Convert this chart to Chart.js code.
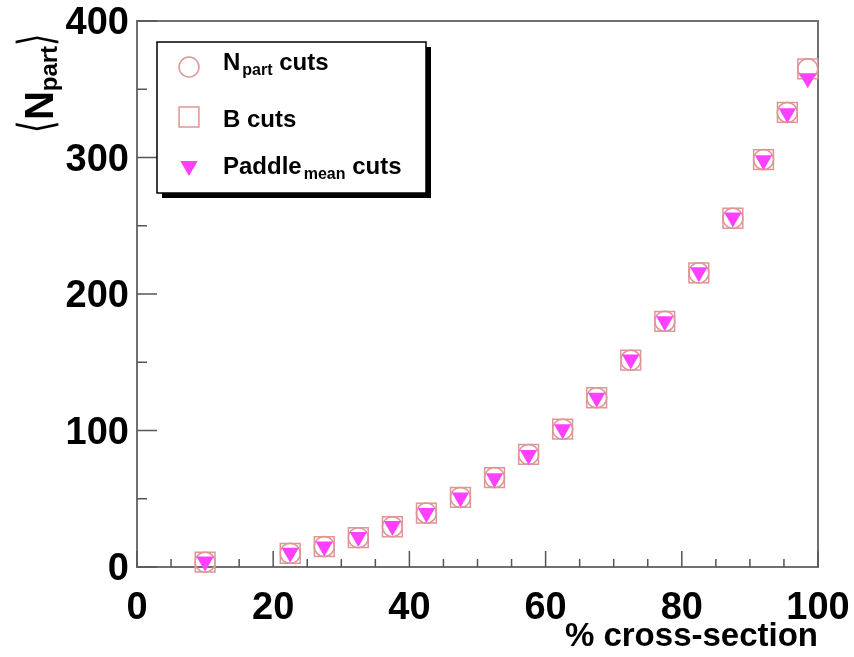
<!DOCTYPE html>
<html>
<head>
<meta charset="utf-8">
<title>Npart vs cross-section</title>
<script src="https://cdn.jsdelivr.net/npm/chart.js@4.4.1/dist/chart.umd.min.js"></script>
<style>
  html, body { margin: 0; padding: 0; background: #fff; }
  canvas { display: block; }
</style>
</head>
<body>
<canvas id="npartChart" width="854" height="657"></canvas>
<script>
// centrality bin centres (% cross-section)
const crossSection = [10, 22.5, 27.5, 32.5, 37.5, 42.5, 47.5, 52.5, 57.5, 62.5, 67.5, 72.5, 77.5, 82.5, 87.5, 92, 95.5, 98.5];

// <Npart> per bin for the three ways of cutting
const npartCuts  = [3.5, 10, 15, 21.5, 29.5, 39.5, 51, 65.5, 82.5, 101, 124, 151.5, 180, 215.5, 255.5, 298.5, 333, 365];
const bCuts      = [3.5, 10, 15, 21.5, 29.5, 39.5, 51, 65.5, 82.5, 101, 124, 151.5, 180, 215.5, 255.5, 298.5, 333, 365];
const paddleCuts = [4, 10.5, 15, 22, 30, 39.5, 51, 65, 82, 101, 124, 152, 180, 216, 256, 298, 332.5, 358];

const xTicks = [0, 20, 40, 60, 80, 100];
const yTicks = [0, 100, 200, 300, 400];

// legend text: main part, subscript, rest
const legendText = [
    ['N', 'part', ' cuts'],
    ['B cuts', '', ''],
    ['Paddle', 'mean', ' cuts']
];

const roseLine = 'rgb(222,150,150)';
const magenta = 'rgb(255,64,255)';
const boldFont = '"Liberation Sans", Arial, sans-serif';

function toPoints(values) {
    return values.map((v, i) => ({ x: crossSection[i], y: v }));
}

// frame with inward ticks, like the usual ROOT pad
const axisFrame = {
    id: 'axisFrame',
    beforeDatasetsDraw(chart) {
        const { ctx, chartArea: a, scales: { x, y } } = chart;
        ctx.save();
        ctx.strokeStyle = '#707070';
        ctx.lineWidth = 2;
        ctx.strokeRect(a.left, a.top, a.right - a.left, a.bottom - a.top);
        ctx.strokeStyle = '#555';
        ctx.lineWidth = 1.5;
        ctx.beginPath();
        for (let v = x.min; v <= x.max; v += 5) {
            const px = x.getPixelForValue(v);
            const len = xTicks.includes(v) ? 16 : 8;
            ctx.moveTo(px, a.bottom);
            ctx.lineTo(px, a.bottom - len);
        }
        for (let v = y.min; v <= y.max; v += 50) {
            const py = y.getPixelForValue(v);
            const len = yTicks.includes(v) ? 20 : 10;
            ctx.moveTo(a.left, py);
            ctx.lineTo(a.left + len, py);
        }
        ctx.stroke();
        ctx.restore();
    }
};

// <N_part> rotated title on the y axis
const yTitle = {
    id: 'yTitle',
    afterDraw(chart) {
        const ctx = chart.ctx;
        const pieces = [
            { text: '\u27E8', font: '200 40px "DejaVu Sans"', dy: -1, sx: 0.8, sy: 1.2 },
            { text: 'N', font: 'bold 40px ' + boldFont, dy: 0, sx: 1, sy: 1 },
            { text: 'part', font: 'bold 24px ' + boldFont, dy: 4, sx: 1, sy: 1 },
            { text: '\u27E9', font: '200 40px "DejaVu Sans"', dy: -1, sx: 0.8, sy: 1.2 }
        ];
        ctx.save();
        ctx.translate(53, 83);
        ctx.rotate(-Math.PI / 2);
        ctx.fillStyle = '#000';
        ctx.textBaseline = 'alphabetic';
        let total = 0;
        pieces.forEach(p => {
            ctx.font = p.font;
            p.w = ctx.measureText(p.text).width * p.sx;
            total += p.w;
        });
        let tx = -total / 2;
        pieces.forEach(p => {
            ctx.save();
            ctx.font = p.font;
            ctx.translate(tx, p.dy);
            ctx.scale(p.sx, p.sy);
            ctx.fillText(p.text, 0, 0);
            ctx.restore();
            tx += p.w;
        });
        ctx.restore();
    }
};

// boxed legend with drop shadow and subscripts
const boxLegend = {
    id: 'boxLegend',
    afterDraw(chart) {
        const ctx = chart.ctx;
        const box = { left: 157, top: 42, right: 426, bottom: 193 };
        const rows = [67, 117, 166];
        const baselines = [70, 127, 174];
        ctx.save();
        ctx.fillStyle = '#000';
        ctx.fillRect(box.left + 5, box.top + 5, box.right - box.left, box.bottom - box.top);
        ctx.fillStyle = '#fff';
        ctx.fillRect(box.left, box.top, box.right - box.left, box.bottom - box.top);
        ctx.strokeStyle = '#000';
        ctx.lineWidth = 1.5;
        ctx.strokeRect(box.left, box.top, box.right - box.left, box.bottom - box.top);

        chart.data.datasets.forEach((ds, i) => {
            ctx.save();
            ctx.strokeStyle = ds.pointBorderColor;
            ctx.fillStyle = ds.pointBackgroundColor;
            ctx.lineWidth = ds.pointBorderWidth;
            Chart.helpers.drawPoint(ctx, {
                pointStyle: ds.pointStyle,
                rotation: ds.pointRotation || 0,
                radius: ds.pointRadius,
                borderWidth: ds.pointBorderWidth
            }, 189, rows[i]);
            ctx.restore();

            const [main, sub, tail] = legendText[i];
            let tx = 223;
            ctx.fillStyle = '#000';
            ctx.textBaseline = 'alphabetic';
            ctx.font = 'bold 24px ' + boldFont;
            ctx.fillText(main, tx, baselines[i]);
            tx += ctx.measureText(main).width;
            if (sub) {
                ctx.font = 'bold 16px ' + boldFont;
                tx += 2;
                ctx.fillText(sub, tx, baselines[i] + 5);
                tx += ctx.measureText(sub).width;
                ctx.font = 'bold 24px ' + boldFont;
                ctx.fillText(tail, tx, baselines[i]);
            }
        });
        ctx.restore();
    }
};

const ctx = document.getElementById('npartChart').getContext('2d');
new Chart(ctx, {
    type: 'scatter',
    data: {
        datasets: [
            {
                label: 'Npart cuts',
                data: toPoints(npartCuts),
                pointStyle: 'circle',
                pointRadius: 10,
                pointBorderWidth: 1.5,
                pointBorderColor: roseLine,
                pointBackgroundColor: 'rgba(0,0,0,0)',
                clip: false,
                order: 2
            },
            {
                label: 'B cuts',
                data: toPoints(bCuts),
                pointStyle: 'rect',
                pointRadius: 14,
                pointBorderWidth: 1.5,
                pointBorderColor: roseLine,
                pointBackgroundColor: 'rgba(0,0,0,0)',
                clip: false,
                order: 1
            },
            {
                label: 'Paddle mean cuts',
                data: toPoints(paddleCuts),
                pointStyle: 'triangle',
                pointRotation: 180,
                pointRadius: 10,
                pointBorderWidth: 0,
                pointBorderColor: magenta,
                pointBackgroundColor: magenta,
                clip: false,
                order: 0
            }
        ]
    },
    options: {
        responsive: false,
        animation: false,
        devicePixelRatio: 1,
        events: [],
        layout: { padding: { left: 0, top: 21, right: 36, bottom: 0 } },
        plugins: {
            legend: { display: false },
            tooltip: { enabled: false }
        },
        scales: {
            x: {
                type: 'linear',
                min: 0,
                max: 100,
                afterFit: s => { s.height = 90; s.paddingLeft = 0; s.paddingRight = 0; },
                afterBuildTicks: s => { s.ticks = xTicks.map(v => ({ value: v })); },
                grid: { display: false },
                border: { display: false },
                ticks: {
                    color: '#000',
                    padding: 11,
                    maxRotation: 0,
                    font: { family: boldFont, weight: 'bold', size: 38 }
                },
                title: {
                    display: true,
                    text: '% cross-section',
                    align: 'end',
                    color: '#000',
                    padding: { top: 0, bottom: 0 },
                    font: { family: boldFont, weight: 'bold', size: 33 }
                }
            },
            y: {
                type: 'linear',
                min: 0,
                max: 400,
                afterFit: s => { s.width = 137; s.paddingTop = 0; s.paddingBottom = 0; },
                afterBuildTicks: s => { s.ticks = yTicks.map(v => ({ value: v })); },
                grid: { display: false },
                border: { display: false },
                ticks: {
                    color: '#000',
                    padding: 0,
                    labelOffset: 3,
                    font: { family: boldFont, weight: 'bold', size: 38 }
                }
            }
        }
    },
    plugins: [axisFrame, yTitle, boxLegend]
});
</script>
</body>
</html>
